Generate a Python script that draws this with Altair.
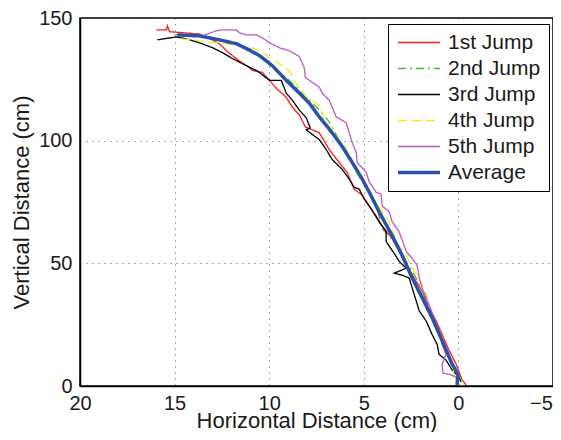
import altair as alt
import pandas as pd

series = ["1st Jump", "2nd Jump", "3rd Jump", "4th Jump", "5th Jump", "Average"]
colors = ["#ff1a1a", "#44bb33", "#000000", "#eeee10", "#c058c0", "#2a52aa"]

jump1_x = [15.96, 15.43, 15.38, 15.27, 14.38, 13.69, 13.00, 12.63, 12.27, 11.95, 11.47, 11.05, 10.89, 10.36,
           9.99, 9.63, 9.10, 8.78, 8.41, 8.09, 7.35, 6.83, 6.30, 5.88, 5.51, 5.08, 4.71, 4.35, 4.03, 3.50,
           3.13, 2.76, 2.34, 1.92, 1.55, 1.18, 0.86, 0.49, 0.12, -0.20, -0.41]
jump1_y = [145.2, 145.2, 146.8, 144.4, 143.9, 143.5, 141.1, 139.5, 136.7, 134.7, 131.9, 129.8, 128.6, 127.8,
           124.6, 121.4, 117.7, 113.7, 110.5, 105.6, 103.2, 96.4, 91.1, 87.1, 80.2, 77.8, 73.4, 69.4, 65.3, 60.1,
           54.8, 49.2, 44.0, 38.7, 31.9, 26.6, 21.0, 14.5, 8.9, 2.4, 0.4]

jump2_x = [15.01, 14.06, 13.00, 11.95, 11.05, 10.36, 9.63, 8.94, 8.04, 7.35, 6.83, 6.30, 5.93, 5.40, 4.87,
           4.35, 4.03, 3.56, 3.13, 2.71, 2.23, 1.81, 1.55, 1.18, 0.76, 0.39, 0.07, -0.20, -0.30]
jump2_y = [143.1, 143.5, 141.9, 139.9, 137.5, 134.3, 128.6, 124.6, 117.7, 112.5, 107.7, 100.4, 95.6, 89.1, 81.5,
           74.2, 64.1, 60.1, 56.0, 50.0, 44.0, 36.7, 31.0, 23.8, 16.9, 9.7, 4.8, 3.6, 0.8]

jump3_x = [15.91, 14.91, 14.38, 13.69, 13.00, 12.48, 11.95, 11.21, 10.68, 10.52, 9.99, 9.36, 9.10, 8.78, 8.41,
           8.04, 7.83, 8.04, 7.35, 6.99, 6.67, 6.14, 5.77, 5.51, 5.24, 4.98, 4.61, 4.19, 3.82, 3.82, 3.39, 3.13,
           2.76, 3.39, 2.97, 2.60, 2.44, 2.23, 2.07, 1.71, 1.39, 1.12, 1.02, 0.65, 0.33, -0.04, -0.14]
jump3_y = [141.1, 142.3, 141.5, 139.9, 137.9, 135.9, 133.5, 130.6, 128.6, 127.8, 124.6, 124.6, 119.4, 116.5, 112.5,
           109.3, 105.2, 104.4, 100.4, 96.4, 92.3, 88.3, 84.3, 81.0, 80.2, 76.2, 72.2, 66.9, 62.9, 58.9, 54.0, 50.8,
           48.0, 46.0, 45.2, 44.0, 39.9, 34.7, 30.6, 26.6, 21.0, 16.9, 12.9, 10.5, 6.5, 3.6, 1.6]

jump4_x = [14.64, 13.69, 12.79, 11.74, 10.95, 10.36, 9.63, 8.94, 8.52, 8.04, 7.35, 7.09, 6.56, 6.03, 5.67, 5.51,
           5.08, 4.71, 4.19, 3.66, 3.29, 2.76, 2.44, 2.07, 1.71, 1.55, 1.18, 0.86, 0.49, 0.23, -0.04, -0.20]
jump4_y = [141.5, 140.7, 139.9, 139.1, 137.9, 135.9, 132.3, 128.6, 122.6, 117.7, 114.5, 108.5, 103.2, 97.6, 93.1, 88.3,
           83.1, 79.0, 72.9, 66.9, 58.9, 53.2, 48.0, 44.0, 37.1, 30.6, 25.0, 19.8, 11.7, 4.8, 0.8, 0.4]

jump5_x = [13.53, 12.79, 12.48, 11.74, 11.58, 11.21, 10.68, 10.36, 9.99, 9.47, 8.94, 8.41, 8.15, 8.09, 7.88, 7.35,
           7.20, 6.83, 6.67, 6.46, 5.93, 5.77, 5.61, 5.40, 5.35, 4.87, 4.71, 4.56, 4.35, 4.08, 4.03, 3.66, 3.50,
           3.13, 2.76, 2.44, 2.18, 2.07, 1.92, 1.55, 1.28, 1.02, 0.86, 0.65, 0.86, 0.81, 0.49, 0.12, 0.07]
jump5_y = [142.7, 144.8, 145.2, 145.2, 144.0, 143.1, 143.1, 141.9, 139.9, 137.9, 136.7, 134.3, 129.8, 125.8, 124.6, 121.8,
           119.4, 116.5, 113.7, 109.7, 107.3, 103.2, 99.2, 95.2, 91.1, 87.1, 83.1, 81.5, 79.0, 78.2, 73.4, 71.0, 66.9,
           62.9, 54.8, 52.0, 49.2, 44.0, 39.9, 33.1, 27.8, 22.6, 16.9, 12.9, 8.9, 5.2, 4.8, 3.6, 0.8]

avg_x = [14.85, 13.69, 12.63, 11.73, 11.20, 10.52, 9.84, 9.10, 8.41, 7.88, 7.35, 6.67, 6.14, 5.61, 5.08, 4.71,
         4.19, 3.50, 2.97, 2.44, 1.91, 1.39, 0.86, 0.33, 0.02, 0.07]
avg_y = [143.1, 142.7, 141.1, 139.5, 137.5, 134.7, 130.6, 124.6, 119.4, 115.3, 109.7, 103.2, 97.6, 91.1, 84.3, 79.0,
         71.0, 61.3, 53.2, 44.0, 35.9, 27.8, 18.5, 8.9, 4.8, 0.4]

x_ticks = [20, 15, 10, 5, 0, -5]
y_ticks = [0, 50, 100, 150]

all_x = [jump1_x, jump2_x, jump3_x, jump4_x, jump5_x, avg_x]
all_y = [jump1_y, jump2_y, jump3_y, jump4_y, jump5_y, avg_y]

rows = []
for name, xs, ys in zip(series, all_x, all_y):
    for i, (xv, yv) in enumerate(zip(xs, ys)):
        rows.append({"series": name, "x": xv, "y": yv, "i": i})
df = pd.DataFrame(rows)

FONT = "Liberation Sans"
TXT = "#1a1a1a"

legend = alt.Legend(
    title=None, orient="none", legendX=308, legendY=6,
    fillColor="white", strokeColor="black", padding=8,
    symbolType="stroke", symbolSize=1764, clipHeight=21,
    labelFontSize=21, labelFont=FONT,
    labelColor=TXT, labelOffset=6, rowPadding=4, labelLimit=300,
)

common_axis = dict(
    grid=True, gridDash=[1, 5], gridColor="#555", gridWidth=1, ticks=False,
    labelFontSize=20, titleFontSize=22, labelFont=FONT, titleFont=FONT,
    titleFontWeight="normal", labelColor=TXT, titleColor=TXT,
    domainColor="black", domainWidth=1.5, labelOverlap=False,
)

chart = alt.Chart(df).mark_line(clip=True).encode(
    x=alt.X("x:Q", scale=alt.Scale(domain=[20, -5], nice=False, zero=False),
            axis=alt.Axis(values=x_ticks, title="Horizontal Distance (cm)",
                          labelPadding=7, titlePadding=-3, labelFlush=False,
                          labelOffset={"condition": {"test": "datum.value == -5", "value": -12}, "value": 0},
                          **common_axis)),
    y=alt.Y("y:Q", scale=alt.Scale(domain=[0, 150], nice=False),
            axis=alt.Axis(values=y_ticks, title="Vertical Distance (cm)",
                          labelPadding=8, titlePadding=5, **common_axis)),
    color=alt.Color("series:N", scale=alt.Scale(domain=series, range=colors), legend=legend),
    strokeDash=alt.StrokeDash("series:N", scale=alt.Scale(
        domain=series, range=[[1, 0], [8, 4, 2, 4], [1, 0], [9, 5], [1, 0], [1, 0]]), legend=legend),
    strokeWidth=alt.StrokeWidth("series:N", scale=alt.Scale(
        type="ordinal", domain=series, range=[1.3, 1.3, 1.3, 1.3, 1.3, 3.5]), legend=legend),
    order=alt.Order("i:Q"),
).properties(
    width=473, height=368,
    autosize=alt.AutoSizeParams(type="none"),
    padding={"left": 72, "top": 10, "right": 0, "bottom": 46},
    background="white",
).configure_view(stroke="black", strokeWidth=1.5)

chart.save("out.html", embed_options={"renderer": "svg", "actions": False})
